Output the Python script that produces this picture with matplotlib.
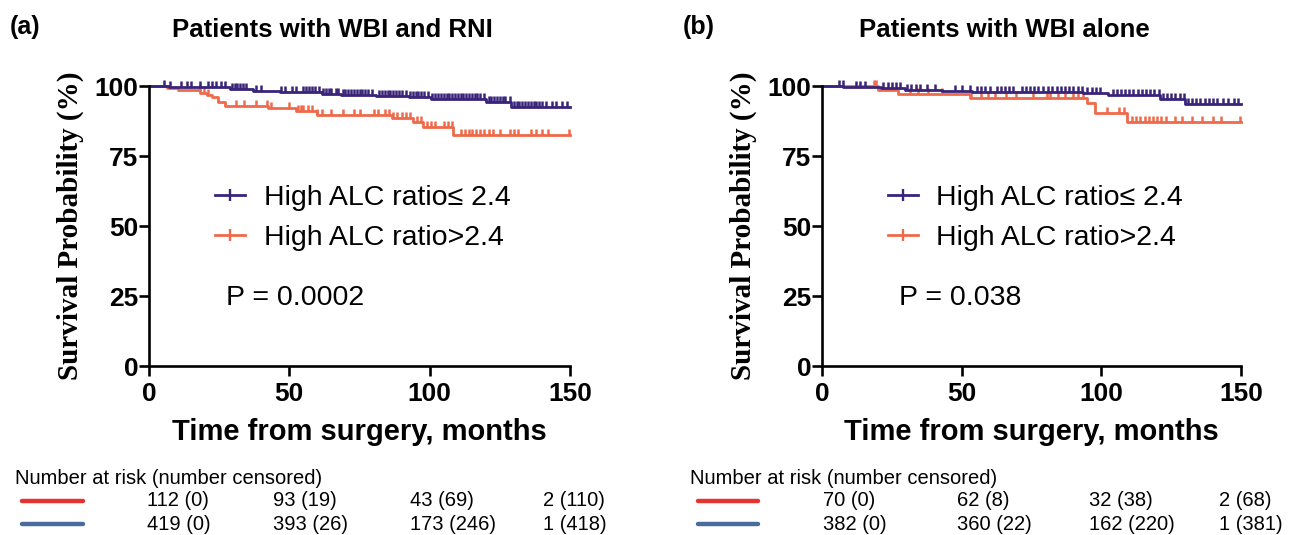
import numpy as np
import matplotlib.pyplot as plt
from matplotlib.lines import Line2D
from matplotlib.path import Path

plt.rcParams['font.family'] = ['Liberation Sans', 'DejaVu Sans']

# ---- data ----
# (a) Patients with WBI and RNI
a_low_t = [0, 7, 29, 37, 46.5, 61.5, 68.5, 81, 92.5, 100.5, 120, 129, 150]
a_low_s = [100, 99.6, 99.1, 98.3, 97.7, 97.3, 96.8, 96.4, 96.0, 95.4, 94.4, 92.5, 92.5]
a_low_cens = [5.5, 7.5, 11.5, 13.5, 15, 18, 21, 22.5, 24, 25.5, 27, 29.5, 30.5, 31.5, 32.5,
              33.5, 34.5, 38, 40, 47, 48.5, 51, 52.5, 55, 56, 57, 58, 59, 60.5, 62, 63, 64,
              65, 66.5, 67.5, 69, 70, 71, 72, 73, 74, 75, 76, 77, 78, 79.5, 82, 83, 84, 85,
              86, 87, 88, 89, 90, 91.5, 93, 94, 95, 96, 97, 98, 99.5, 101, 102, 103, 104,
              105, 106, 107, 108, 109, 110, 111, 112, 113, 114, 115, 116, 117, 118, 119.5,
              121, 122, 123, 124, 125, 126, 127, 128.5, 130, 131, 132, 133, 134, 135, 136,
              137, 138, 139, 140, 141.5, 143.5, 145, 147, 149]
a_high_t = [0, 6.3, 10.5, 18.2, 20.5, 22.3, 24.7, 27, 42.5, 52.5, 59.7, 86.5, 94.2, 97.7, 108.4, 150]
a_high_s = [100, 99.4, 98.4, 97.6, 96.8, 96.0, 94.4, 92.9, 92.0, 91.0, 89.8, 88.7, 87.0, 85.3, 82.6, 82.6]
a_high_cens = [18, 19.5, 21, 31, 34, 38, 42, 43.5, 50, 53, 54, 55, 56.5, 58, 60, 61.5, 65, 69,
               73, 75, 80, 81.5, 84, 85.5, 87, 88.5, 90, 91.5, 93, 95.5, 97, 99, 100.5, 102,
               105, 106.5, 108, 111, 112.5, 114, 115, 116.5, 118, 119.5, 121, 122.5, 125,
               128.5, 130, 131.5, 136, 138, 140, 142, 149.5]

# (b) Patients with WBI alone
b_low_t = [0, 7.6, 21, 29.7, 43, 53.6, 93.5, 102.4, 121, 130, 150]
b_low_s = [100, 99.5, 99.2, 98.7, 98.2, 97.8, 97.4, 96.9, 95.2, 93.6, 93.6]
b_low_cens = [6, 7.5, 12, 13.5, 15.5, 22, 23.5, 25, 26.5, 28, 30.5, 32, 33.5, 35, 37.5, 40.5,
              47.5, 50, 53, 55.5, 57, 58.5, 60, 62.5, 64, 65.5, 67, 68.5, 71.5, 73, 74.5, 76,
              77.5, 79, 81, 82.5, 84, 85.5, 87, 88.5, 90, 91.5, 93, 95, 96.5, 98, 99.5, 104,
              105.5, 107, 108.5, 110, 111.5, 113, 114.5, 116, 117.5, 119, 120.5, 122, 123.5,
              125, 126.5, 128, 129.5, 131, 132.5, 134, 135.5, 137, 138.5, 140, 141.5, 143.5,
              145.5, 147.5, 149]
b_high_t = [0, 20, 27.3, 53, 94.8, 97.8, 109.2, 150]
b_high_s = [100, 98.6, 97.1, 95.6, 93.8, 90.5, 87.3, 87.3]
b_high_cens = [18.5, 19.5, 31.5, 34.5, 38, 43, 53.5, 57, 59.5, 62, 66, 69.5, 75.5, 80.5, 81.5,
               84.5, 87, 90, 91.5, 93.5, 102, 106.5, 108, 111, 112.5, 114, 115.5, 117, 118.5,
               120, 121.5, 123, 126.5, 129, 132.5, 136, 140, 143, 149.5]

titles = ['Patients with WBI and RNI', 'Patients with WBI alone']
panel_tags = ['(a)', '(b)']
p_values = ['P = 0.0002', 'P = 0.038']
legend_labels = ['High ALC ratio\u2264 2.4', 'High ALC ratio>2.4']
x_ticks = [0, 50, 100, 150]
y_ticks = [0, 25, 50, 75, 100]

risk_high = [['112 (0)', '93 (19)', '43 (69)', '2 (110)'],
             ['70 (0)', '62 (8)', '32 (38)', '2 (68)']]
risk_low = [['419 (0)', '393 (26)', '173 (246)', '1 (418)'],
            ['382 (0)', '360 (22)', '162 (220)', '1 (381)']]

blue = '#392479'
red = '#ef6a4a'

# censor tick: short vertical stroke pointing up from the curve
up_tick = Path([(0, 0), (0, 1)], [Path.MOVETO, Path.LINETO])

W, H = 1306, 535
fig = plt.figure(figsize=(W / 100, H / 100), dpi=100)

panels = [
    (a_low_t, a_low_s, a_low_cens, a_high_t, a_high_s, a_high_cens),
    (b_low_t, b_low_s, b_low_cens, b_high_t, b_high_s, b_high_cens),
]
ax_left = [149, 822]
ax_width = [421, 419]
tab_x0 = [15, 690]
tab_line = [(22, 83), (698, 758)]
tab_cols = [[147, 273, 410, 543], [823, 957, 1089, 1219]]


def step_at(t, s, c):
    idx = np.searchsorted(t, c, side='right') - 1
    return np.asarray(s)[idx]


for i, (lt, ls, lc, ht, hs, hc) in enumerate(panels):
    ax = fig.add_axes([ax_left[i] / W, (H - 366) / H, ax_width[i] / W, 280 / H])
    for t, s, c, col in [(ht, hs, hc, red), (lt, ls, lc, blue)]:
        ax.step(t, s, where='post', color=col, lw=2, clip_on=False)
        ax.plot(c, step_at(t, s, c), ls='none', marker=up_tick, ms=8, mew=1.8,
                color=col, clip_on=False)
    ax.set_xlim(0, 150)
    ax.set_ylim(0, 100)
    ax.set_xticks(x_ticks)
    ax.set_yticks(y_ticks)
    for sp in ['top', 'right']:
        ax.spines[sp].set_visible(False)
    for sp in ['left', 'bottom']:
        ax.spines[sp].set_linewidth(1.9)
    ax.tick_params(width=1.9, length=7, labelsize=19)
    ax.tick_params(axis='y', pad=0.5)
    ax.tick_params(axis='x', pad=4.5)
    for lab in ax.get_xticklabels() + ax.get_yticklabels():
        lab.set_fontweight('bold')
    ax.set_xlabel('Time from surgery, months', fontsize=21, fontweight='bold', labelpad=9)
    ax.set_ylabel('Survival Probability (%)', fontsize=21, fontweight='bold',
                  family='Liberation Serif', labelpad=8)
    ax.text(0.435, 1.2, titles[i], transform=ax.transAxes, ha='center', va='center',
            fontsize=18.5, fontweight='bold')
    fig.text((ax_left[i] - 139) / W, (H - 27) / H, panel_tags[i], ha='left', va='center',
             fontsize=18, fontweight='bold')
    handles = [Line2D([], [], color=blue, lw=2, marker='|', ms=8, mew=1.7),
               Line2D([], [], color=red, lw=2, marker='|', ms=8, mew=1.7)]
    ax.legend(handles, legend_labels, loc='upper left', bbox_to_anchor=(0.157, 0.648),
              frameon=False, fontsize=20.5, handlelength=1.05, handletextpad=0.66,
              labelspacing=0.5, borderpad=0, borderaxespad=0, numpoints=1)
    ax.text(27.4, 24.4, p_values[i], fontsize=20.5, ha='left', va='center')

    # number-at-risk table
    fig.text(tab_x0[i] / W, (H - 478) / H, 'Number at risk (number censored)',
             fontsize=14.5, ha='left', va='center')
    for row_y, col, vals in [(501, '#e53430', risk_high[i]), (524, '#4a6c9b', risk_low[i])]:
        fig.add_artist(Line2D([tab_line[i][0] / W, tab_line[i][1] / W],
                              [(H - row_y) / H, (H - row_y) / H], color=col, lw=3.2,
                              solid_capstyle='round'))
        for cx, v in zip(tab_cols[i], vals):
            fig.text(cx / W, (H - row_y) / H, v, fontsize=14.5, ha='left', va='center')

fig.savefig('out.png', dpi=100)
